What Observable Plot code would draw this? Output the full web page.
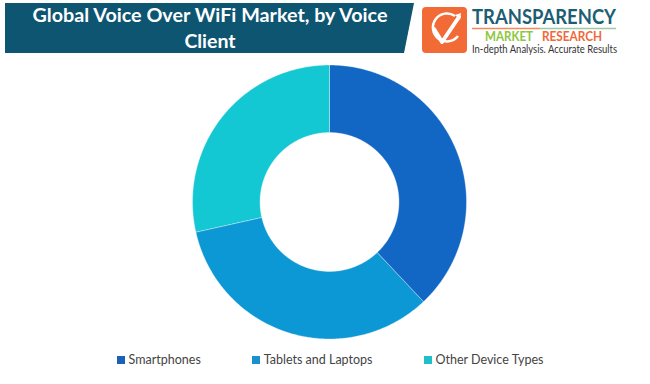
<!DOCTYPE html>
<html>
<head>
<meta charset="utf-8">
<script src="https://cdn.jsdelivr.net/npm/d3@7"></script>
<script src="https://cdn.jsdelivr.net/npm/@observablehq/plot@0.6"></script>
<style>
  html, body { margin: 0; padding: 0; background: #fff; }
  #wrap { position: relative; width: 650px; height: 384px; overflow: hidden; background: #fff; }
  #chart { position: absolute; left: 0; top: 0; }
  #header { position: absolute; left: 0; top: 0; }
  #legend { position: absolute; left: 5px; top: 352px; width: 650px; display: flex; justify-content: center; gap: 51px;
            font-family: Lato, sans-serif; font-size: 12.5px; color: #444; }
  .item { display: flex; align-items: center; white-space: nowrap; }
  .sw { width: 8px; height: 8px; margin-right: 4px; display: inline-block; }
</style>
</head>
<body>
<div id="wrap">
  <div id="chart"></div>
  <svg id="header" width="650" height="60" xmlns="http://www.w3.org/2000/svg">
    <polygon points="5,3 414,3 404,53 5,53" fill="#0e5571"/>
    <text x="210" y="22" text-anchor="middle" fill="#fff" font-family="Lato, sans-serif" font-weight="bold" font-size="19.5" textLength="355" lengthAdjust="spacingAndGlyphs">Global Voice Over WiFi Market, by Voice</text>
    <text x="210" y="48" text-anchor="middle" fill="#fff" font-family="Lato, sans-serif" font-weight="bold" font-size="19.5">Client</text>
    <rect x="422" y="7" width="45" height="46" rx="4" fill="#f26a36"/>
    <path d="M455,16 A14,14 0 1,0 458,36" fill="none" stroke="#fff" stroke-width="2.5"/>
    <path d="M434,29 L442,42 L459,17" fill="none" stroke="#fff" stroke-width="4" stroke-linejoin="round" stroke-linecap="round"/>
    <path d="M455,15 L461,13 L460,20 Z" fill="#fff"/>
    <text x="472" y="24" fill="#1d5e74" font-family="Lato, sans-serif" font-weight="bold" font-size="21" textLength="144" lengthAdjust="spacingAndGlyphs">TRANSPARENCY</text>
    <line x1="472" y1="28.5" x2="540" y2="28.5" stroke="#f08a5a" stroke-width="1.5"/>
    <line x1="540" y1="28.5" x2="616" y2="28.5" stroke="#9cc9a6" stroke-width="1.5"/>
    <text x="485" y="41" fill="#8cc63e" font-family="Lato, sans-serif" font-weight="bold" font-size="12.5" textLength="48" lengthAdjust="spacingAndGlyphs">MARKET</text>
    <text x="542" y="41" fill="#f0683a" font-family="Lato, sans-serif" font-weight="bold" font-size="12.5" textLength="60" lengthAdjust="spacingAndGlyphs">RESEARCH</text>
    <text x="472" y="53" fill="#333" font-family="Lato, sans-serif" font-size="10.5" textLength="145" lengthAdjust="spacingAndGlyphs">In-depth Analysis. Accurate Results</text>
  </svg>
  <div id="legend"></div>
</div>
<script>
// ---- data ----
const categories = ["Smartphones", "Tablets and Laptops", "Other Device Types"];
const shares = [38, 33.5, 28.5];
const colors = ["#1167c3", "#0c97d5", "#14c8d3"];
const legendColors = ["#1a62b8", "#1a90cc", "#1fc0c9"];

// ---- build ring sectors (geometry from data via d3.pie) ----
const innerRatio = 0.507;
const pie = d3.pie().sort(null).value(d => d.value);
const arcs = pie(categories.map((c, i) => ({category: c, value: shares[i]})));
const rows = [];
for (const a of arcs) {
  const n = Math.max(2, Math.ceil((a.endAngle - a.startAngle) / (Math.PI / 360)));
  for (let k = 0; k <= n; k++) {
    const t = a.startAngle + (a.endAngle - a.startAngle) * k / n;
    rows.push({
      category: a.data.category,
      xo: Math.sin(t), yo: Math.cos(t),
      xi: innerRatio * Math.sin(t), yi: innerRatio * Math.cos(t)
    });
  }
}

const plot = Plot.plot({
  width: 650,
  height: 384,
  marginLeft: 192.5,
  marginRight: 183.5,
  marginTop: 65,
  marginBottom: 45,
  x: {domain: [-1, 1], axis: null},
  y: {domain: [-1, 1], axis: null},
  color: {domain: categories, range: colors},
  style: {background: "transparent", overflow: "visible"},
  marks: [
    Plot.area(rows, {
      x1: "xo", y1: "yo", x2: "xi", y2: "yi",
      z: "category", fill: "category",
      stroke: "#ffffff", strokeOpacity: 0.35, strokeWidth: 1,
      curve: "linear"
    })
  ]
});
document.getElementById("chart").appendChild(plot);

// ---- legend ----
const legend = document.getElementById("legend");
categories.forEach((c, i) => {
  const item = document.createElement("div");
  item.className = "item";
  const sw = document.createElement("span");
  sw.className = "sw";
  sw.style.background = legendColors[i];
  const label = document.createElement("span");
  label.textContent = c;
  item.appendChild(sw);
  item.appendChild(label);
  legend.appendChild(item);
});
</script>
</body>
</html>
